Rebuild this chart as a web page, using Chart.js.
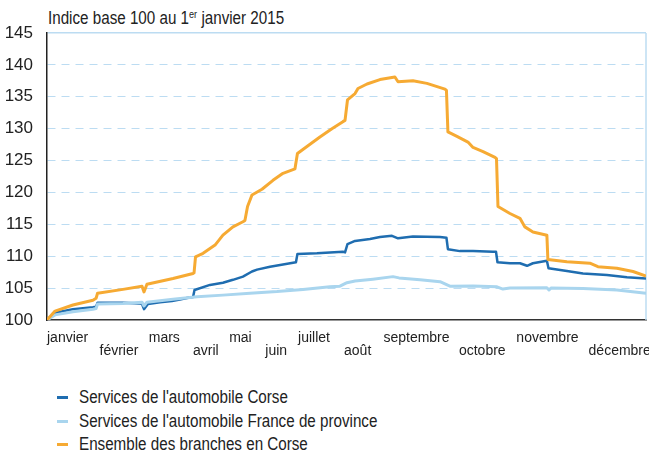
<!DOCTYPE html>
<html lang="fr">
<head>
<meta charset="utf-8">
<script src="https://cdn.jsdelivr.net/npm/chart.js@4.4.1/dist/chart.umd.min.js"></script>
<style>
  body { margin: 0; width: 649px; height: 452px; background: #fff; overflow: hidden; position: relative;
         font-family: "Liberation Sans", Arial, sans-serif; color: #222; }
  .narrow { display: inline-block; transform: scaleX(0.868); transform-origin: 0 50%; white-space: nowrap; }
  #title { position: absolute; left: 48px; top: 10px; font-size: 17.5px; line-height: 17px; }
  #title sup { font-size: 10.5px; line-height: 0; vertical-align: 6px; }
  #wrap { position: absolute; left: 0; top: 0; width: 649px; height: 365px; }
  #legend { position: absolute; left: 57px; top: 386px; font-size: 17.5px; }
  .row { height: 23.5px; display: flex; align-items: center; white-space: nowrap; }
  .swatch { width: 11px; height: 3px; margin-right: 11px; flex: none; }
</style>
</head>
<body>
<div id="title"><span class="narrow">Indice base 100 au 1<sup>er</sup> janvier 2015</span></div>
<div id="wrap"><canvas id="chart"></canvas></div>
<div id="legend"></div>
<script>
const FONT = '"Liberation Sans", Arial, sans-serif';

// month labels and where they sit on the day axis (label left edge)
const monthLabels = ["janvier", "février", "mars", "avril", "mai", "juin", "juillet", "août", "septembre", "octobre", "novembre", "décembre"];
const monthTicks = [0, 32, 62, 89, 111, 133, 153, 181, 205, 251, 286, 330];

const seriesNames = ["Services de l'automobile Corse", "Services de l'automobile France de province", "Ensemble des branches en Corse"];
const seriesColors = ["#1f6db0", "#a9d5ee", "#f6aa33"];

// Services de l'automobile Corse
const corseDays = [0, 4.9, 15.8, 28, 29.9, 30.8, 46.3, 56.7, 57.9, 59.1, 61.5, 68.9, 76.2, 81, 85.3, 89, 89.9,
  99.3, 107.2, 113.3, 119.4, 124.9, 128, 135.9, 143.8, 151.7, 152.6, 164.5, 172.4, 180.3, 181.6, 183.1,
  187.7, 196.8, 202.9, 210.2, 213.9, 223, 239.5, 243.4, 244.3, 251.6, 259.6, 271.7, 273.6, 274.5,
  282.1, 288.2, 292.5, 296.1, 304.6, 305.6, 316.8, 326.6, 341.2, 353.4, 365];
const corseValues = [100, 101.15, 101.7, 102.0, 102.1, 102.7, 102.7, 102.6, 102.5, 101.7, 102.5, 102.8, 102.98, 103.2, 103.45, 103.6, 104.7,
  105.5, 105.85, 106.3, 106.8, 107.6, 107.9, 108.35, 108.7, 109.05, 110.35, 110.45, 110.6, 110.7, 110.6, 111.9,
  112.4, 112.7, 113.0, 113.2, 112.8, 113.1, 113.0, 112.9, 111.1, 110.8, 110.8, 110.7, 110.7, 109.05,
  108.9, 108.9, 108.5, 108.9, 109.3, 108.1, 107.7, 107.3, 107.05, 106.7, 106.5];

// Services de l'automobile France de province
const franceDays = [0, 4.9, 15.8, 28, 29.9, 30.8, 46.3, 57.9, 59.1, 60.9, 76.8, 91.4, 107.2, 123.7, 140.1, 156,
  172.4, 178.5, 182.8, 187.7, 198.6, 210.8, 214.5, 227.3, 239.5, 245.5, 259.6, 274.2, 277.8, 282.1,
  304.6, 305.9, 307.1, 326.6, 347.3, 365];
const franceValues = [100, 100.8, 101.3, 101.7, 101.8, 102.5, 102.6, 102.8, 102.2, 102.8, 103.25, 103.65, 103.9, 104.2, 104.45, 104.8,
  105.2, 105.3, 105.85, 106.1, 106.4, 106.8, 106.6, 106.3, 106.0, 105.3, 105.35, 105.2, 104.85, 105.0,
  105.05, 104.7, 105.0, 104.95, 104.7, 104.2];

// Ensemble des branches en Corse
const ensembleDays = [0, 4.9, 15.8, 28, 29.9, 30.8, 46.3, 57.9, 59.1, 60.9, 76.8, 89, 89.6, 90.5, 95.1, 102.4,
  107.2, 113.3, 119.4, 120.6, 122.2, 124.9, 131, 137.7, 143.8, 151.1, 152.6, 158.4, 166.3, 173.6, 180.3,
  181.6, 183.1, 187.7, 189.5, 195, 202.9, 212, 213.9, 223, 231.5, 242.5, 243.4, 244.3, 249.8, 256.5,
  259.6, 265.7, 273, 273.9, 274.8, 282.1, 288.2, 291.2, 296.1, 304.6, 305.2, 316.8, 330.8, 335.7,
  347.3, 357.1, 365];
const ensembleValues = [100, 101.4, 102.35, 103.1, 103.4, 104.2, 104.8, 105.3, 104.4, 105.6, 106.5, 107.3, 107.4, 109.9, 110.45, 111.75,
  113.3, 114.6, 115.4, 115.6, 117.8, 119.6, 120.5, 121.9, 123.0, 123.7, 126.1, 127.2, 128.7, 130.0, 131.1,
  131.3, 134.5, 135.5, 136.3, 137.0, 137.7, 138.1, 137.35, 137.5, 137.1, 136.2, 136.0, 129.5, 128.8, 127.9,
  127.05, 126.4, 125.5, 125.3, 117.8, 116.7, 115.95, 114.6, 113.8, 113.3, 109.5, 109.15, 108.9, 108.35,
  108.1, 107.6, 106.9];

const yTicks = { min: 100, max: 145, step: 5 };

function points(days, values) {
  return days.map((d, i) => ({ x: d, y: values[i] }));
}

// legend as html, one row per series
const legendEl = document.getElementById("legend");
seriesNames.forEach((name, i) => {
  const row = document.createElement("div");
  row.className = "row";
  row.innerHTML = '<span class="swatch" style="background:' + seriesColors[i] + '"></span><span class="narrow"></span>';
  row.lastChild.textContent = name;
  legendEl.appendChild(row);
});

const rightBorder = {
  id: "rightBorder",
  beforeDatasetsDraw(chart) {
    const { ctx, chartArea: a } = chart;
    ctx.save();
    ctx.strokeStyle = "#bcdcf2";
    ctx.lineWidth = 1.5;
    ctx.beginPath();
    ctx.moveTo(a.right, a.top);
    ctx.lineTo(a.right, a.bottom);
    ctx.stroke();
    ctx.restore();
  }
};

const ctx = document.getElementById("chart").getContext("2d");
new Chart(ctx, {
  type: "line",
  data: {
    datasets: [
      { label: seriesNames[0], data: points(corseDays, corseValues), borderColor: seriesColors[0], borderWidth: 2.5, order: 2 },
      { label: seriesNames[1], data: points(franceDays, franceValues), borderColor: seriesColors[1], borderWidth: 3, order: 1 },
      { label: seriesNames[2], data: points(ensembleDays, ensembleValues), borderColor: seriesColors[2], borderWidth: 3, order: 0 }
    ]
  },
  options: {
    responsive: true,
    maintainAspectRatio: false,
    animation: false,
    layout: { padding: { top: 33, right: 3, left: 0, bottom: 0 } },
    elements: { point: { radius: 0 }, line: { tension: 0, borderJoinStyle: "round" } },
    plugins: { legend: { display: false }, tooltip: { enabled: false } },
    scales: {
      x: {
        type: "linear",
        min: 0,
        max: 365,
        afterBuildTicks: s => { s.ticks = monthTicks.map(v => ({ value: v })); },
        afterFit: s => { s.height = 45; s.paddingLeft = 0; s.paddingRight = 0; },
        grid: { display: false, drawTicks: false },
        border: { display: true, color: "#333", width: 1.5 },
        ticks: {
          autoSkip: false,
          maxRotation: 0,
          minRotation: 0,
          align: "start",
          padding: 12,
          color: "#222",
          font: { family: FONT, size: 14, lineHeight: 0.93 },
          callback: (v, i) => i % 2 === 0 ? monthLabels[i] : ["", monthLabels[i]]
        }
      },
      y: {
        min: yTicks.min,
        max: yTicks.max,
        afterFit: s => { s.width = 47; s.paddingTop = 0; s.paddingBottom = 0; },
        grid: {
          drawTicks: false,
          color: c => c.tick && c.tick.value === yTicks.min ? "rgba(0,0,0,0)" : "#bcdcf2",
          lineWidth: c => c.tick && c.tick.value === yTicks.max ? 1.5 : 1
        },
        border: {
          color: "#222",
          width: 1.5,
          dash: c => (c.tick && c.tick.value !== yTicks.max) ? [8, 6] : []
        },
        ticks: {
          stepSize: yTicks.step,
          padding: 14,
          color: "#222",
          font: { family: FONT, size: 17 }
        }
      }
    }
  },
  plugins: [rightBorder]
});
</script>
</body>
</html>
